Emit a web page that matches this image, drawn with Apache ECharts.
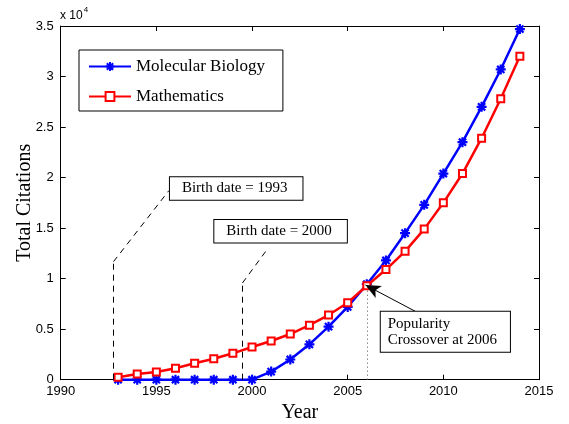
<!DOCTYPE html>
<html>
<head>
<meta charset="utf-8">
<script src="https://cdn.jsdelivr.net/npm/echarts@6/dist/echarts.min.js"></script>
<style>
html,body{margin:0;padding:0;background:#fff;}
#main{width:569px;height:424px;}
</style>
</head>
<body>
<div id="main"></div>
<script>
const years = [1993,1994,1995,1996,1997,1998,1999,2000,2001,2002,2003,2004,2005,2006,2007,2008,2009,2010,2011,2012,2013,2014];
const molBio = [0,0,0,0,0,0,0,0,800,2000,3500,5250,7200,9450,11800,14500,17300,20400,23500,27000,30700,34700];
const math = [240,560,760,1130,1620,2080,2610,3240,3830,4520,5400,6400,7620,9300,10900,12700,14900,17500,20400,23900,27800,32000];
const seriesNames = ['Molecular Biology','Mathematics'];
const xTicks = {min:1990, max:2015, interval:5};
const yTicks = {min:0, max:35000, interval:5000};

const serif = 'Liberation Serif';
const sans = 'Liberation Sans';
const asterisk = 'path://M0,-5L0,5M-5,0L5,0M-3.6,-3.6L3.6,3.6M-3.6,3.6L3.6,-3.6';

const boxLabel = (text, pad) => ({
  show: true, position: [0,0], formatter: text,
  fontFamily: serif, fontSize: 15, color: '#000', lineHeight: 16.5,
  backgroundColor: '#fff', borderColor: '#000', borderWidth: 1, padding: pad
});

const chart = echarts.init(document.getElementById('main'), null, {renderer:'canvas'});
chart.setOption({
  animation: false,
  backgroundColor: '#fff',
  grid: {left: 60.7, right: 30, top: 26, bottom: 44.3, containLabel: false, outerBoundsMode: 'none'},
  legend: {
    data: seriesNames, orient: 'vertical', left: 79, top: 50,
    itemWidth: 42, itemHeight: 11, itemGap: 13,
    padding: [8, 18, 6, 9],
    borderColor: '#000', borderWidth: 1, backgroundColor: '#fff',
    textStyle: {fontFamily: serif, fontSize: 17, color: '#000'},
    selectedMode: false
  },
  xAxis: [{
    type: 'value', min: xTicks.min, max: xTicks.max, interval: xTicks.interval,
    name: 'Year', nameLocation: 'middle', nameGap: 23, nameMoveOverlap: false,
    nameTextStyle: {fontFamily: serif, fontSize: 20, color: '#000'},
    axisLine: {onZero: false, lineStyle: {color: '#000', width: 1}},
    axisTick: {inside: true, length: 5, lineStyle: {color: '#000'}},
    axisLabel: {fontFamily: sans, fontSize: 13, color: '#000', margin: 5,
      formatter: v => String(v)},
    splitLine: {show: false}
  }, {
    type: 'value', position: 'top', min: xTicks.min, max: xTicks.max, interval: xTicks.interval,
    axisLine: {onZero: false, lineStyle: {color: '#000', width: 1}},
    axisTick: {inside: true, length: 5, lineStyle: {color: '#000'}},
    axisLabel: {show: false}, splitLine: {show: false}
  }],
  yAxis: [{
    type: 'value', min: yTicks.min, max: yTicks.max, interval: yTicks.interval,
    name: 'Total Citations', nameLocation: 'middle', nameGap: 26, nameMoveOverlap: false,
    nameTextStyle: {fontFamily: serif, fontSize: 20, color: '#000'},
    axisLine: {show: true, onZero: false, lineStyle: {color: '#000', width: 1}},
    axisTick: {show: true, inside: true, length: 5, lineStyle: {color: '#000'}},
    axisLabel: {fontFamily: sans, fontSize: 13, color: '#000', margin: 7,
      formatter: v => String(v / 10000)},
    splitLine: {show: false}
  }, {
    type: 'value', position: 'right', min: yTicks.min, max: yTicks.max, interval: yTicks.interval,
    axisLine: {show: true, onZero: false, lineStyle: {color: '#000', width: 1}},
    axisTick: {show: true, inside: true, length: 5, lineStyle: {color: '#000'}},
    axisLabel: {show: false}, splitLine: {show: false}
  }],
  graphic: [{
    type: 'text', left: 60, top: 6,
    style: {
      text: '{a|x 10}{b|4}', fill: '#000',
      rich: {
        a: {fontFamily: sans, fontSize: 12, verticalAlign: 'bottom', lineHeight: 16},
        b: {fontFamily: sans, fontSize: 8, verticalAlign: 'top', lineHeight: 16, padding:[0,0,6,1]}
      }
    }
  }],
  series: [{
    name: seriesNames[0], type: 'line',
    data: years.map((y, i) => [y, molBio[i]]),
    color: '#0000ff',
    lineStyle: {color: '#0000ff', width: 2.5},
    symbol: asterisk, symbolSize: 10, showAllSymbol: true,
    itemStyle: {color: '#0000ff', borderColor: '#0000ff', borderWidth: 2.2},
    emphasis: {disabled: true}, z: 3
  }, {
    name: seriesNames[1], type: 'line',
    data: years.map((y, i) => [y, math[i]]),
    color: '#ff0000',
    lineStyle: {color: '#ff0000', width: 2.5},
    symbol: 'emptyRect', symbolSize: 7, showAllSymbol: true,
    itemStyle: {color: '#ff0000', borderColor: '#ff0000', borderWidth: 2},
    emphasis: {disabled: true}, z: 4
  }, {
    name: 'annotations', type: 'line', data: [], z: 5,
    markLine: {
      silent: true, symbol: ['none','none'], label: {show: false},
      emphasis: {disabled: true},
      data: [
        [{coord: [1992.76, 0], lineStyle: {type: [6,5], color: '#000', width: 1}}, {coord: [1992.76, 11680]}],
        [{coord: [1992.76, 11680], lineStyle: {type: [6,5], color: '#000', width: 1}}, {coord: [1995.65, 18700]}],
        [{coord: [1999.5, 0], lineStyle: {type: [6,5], color: '#000', width: 1}}, {coord: [1999.5, 9570]}],
        [{coord: [1999.5, 9570], lineStyle: {type: [6,5], color: '#000', width: 1}}, {coord: [2000.77, 12840]}],
        [{coord: [2006, 0], lineStyle: {type: [1,3], color: '#555', width: 1}}, {coord: [2006, 9300]}],
        [{coord: [2008.57, 6730], symbol: 'none', lineStyle: {type: 'solid', color: '#000', width: 1}},
         {coord: [2005.93, 9370], symbol: 'arrow', symbolSize: [10, 15]}]
      ]
    },
    markPoint: {
      silent: true, symbol: 'rect', symbolSize: 0,
      itemStyle: {color: 'rgba(0,0,0,0)'},
      data: [
        {coord: [1995.71, 20040], label: boxLabel('Birth date = 1993', [3, 15, 3, 12])},
        {coord: [1998.03, 15810], label: boxLabel('Birth date = 2000', [3, 15, 3, 12])},
        {coord: [2006.73, 6730], label: boxLabel('Popularity\nCrossover at 2006', [4, 13, 3, 7])}
      ]
    }
  }]
});
</script>
</body>
</html>
